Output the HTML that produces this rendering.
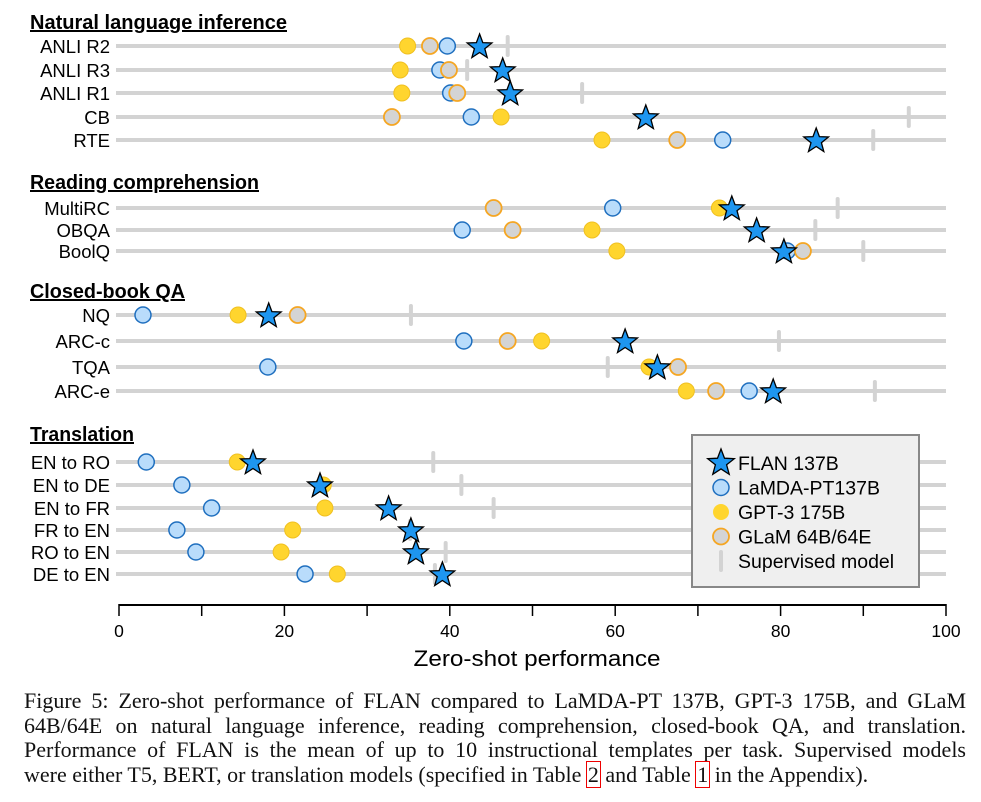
<!DOCTYPE html>
<html><head><meta charset="utf-8"><style>
html,body{margin:0;padding:0;background:#fff;}
body{width:981px;height:802px;overflow:hidden;position:relative;}
svg{position:absolute;left:0;top:0;}
.cap{position:absolute;left:24px;top:689px;width:942px;font-family:"Liberation Serif",serif;font-size:22px;line-height:24.6px;color:#111;}
.cap .ln{display:block;text-align:justify;text-align-last:justify;white-space:nowrap;}
.cap .last{text-align-last:left;}
.box{outline:1px solid #e00;padding:0 1px;}
</style></head><body>
<svg id="chart" width="981" height="690" font-family="Liberation Sans, sans-serif"></svg>
<div class="cap"><span class="ln">Figure 5: Zero-shot performance of FLAN compared to LaMDA-PT 137B, GPT-3 175B, and GLaM</span><span class="ln">64B/64E on natural language inference, reading comprehension, closed-book QA, and translation.</span><span class="ln">Performance of FLAN is the mean of up to 10 instructional templates per task. Supervised models</span><span class="ln last">were either T5, BERT, or translation models (specified in Table <span class="box">2</span> and Table <span class="box">1</span> in the Appendix).</span></div>
<script>
const tasks=["ANLI R2","ANLI R3","ANLI R1","CB","RTE","MultiRC","OBQA","BoolQ","NQ","ARC-c","TQA","ARC-e","EN to RO","EN to DE","EN to FR","FR to EN","RO to EN","DE to EN"];
const flan=[43.6,46.4,47.3,63.7,84.3,74.1,77.1,80.4,18.1,61.2,65.1,79.1,16.2,24.3,32.6,35.3,35.9,39.1];
const lamda=[39.7,38.8,40.1,42.6,73.0,59.7,41.5,80.8,2.9,41.7,18.0,76.2,3.3,7.6,11.2,7.0,9.3,22.5];
const gpt3=[34.9,34.0,34.2,46.2,58.4,72.6,57.2,60.2,14.4,51.1,64.1,68.6,14.3,24.7,24.9,21.0,19.6,26.4];
const glam=[37.6,39.9,40.9,33.0,67.5,45.3,47.6,82.7,21.6,47.0,67.6,72.2,null,null,null,null,null,null];
const supervised=[47.0,42.1,56.0,95.5,91.2,86.9,84.2,90.0,35.3,79.8,59.1,91.4,38.0,41.4,45.3,35.2,39.5,38.2];
const xTicks=[0,10,20,30,40,50,60,70,80,90,100];
const xLabels=[0,20,40,60,80,100];
const groups=["Natural language inference","Reading comprehension","Closed-book QA","Translation"];

const rowY=[46,70,93,117,140,208,230,251,315,341,367,391,462,485,508,530,552,574];
const groupY=[22,182,291,434];
const X=v=>119+v*8.27;
const svg=document.getElementById('chart');
const NS='http://www.w3.org/2000/svg';
function mk(tag,at,parent){const e=document.createElementNS(NS,tag);for(const k in at)e.setAttribute(k,at[k]);(parent||svg).appendChild(e);return e;}
function star(cx,cy,r){let p=[];for(let i=0;i<10;i++){const a=-Math.PI/2+i*Math.PI/5;const rr=i%2?r*0.42:r;p.push((cx+rr*Math.cos(a)).toFixed(1)+','+(cy+rr*Math.sin(a)).toFixed(1));}return p.join(' ');}

groups.forEach((g,i)=>{
  const t=mk('text',{x:30,y:groupY[i]+7,'font-size':20,'font-weight':'bold','text-decoration':'underline',textLength:i==0?257:(i==1?229:(i==2?155:104)),lengthAdjust:'spacingAndGlyphs'});
  
  
  t.textContent=g;
});
tasks.forEach((t,i)=>{
  const y=rowY[i];
  const lab=mk('text',{x:110,y:y+7,'font-size':18.5,'text-anchor':'end'});
  
  
  lab.textContent=t;
  const gl=mk('line',{x1:116,x2:946,y1:y,y2:y,stroke:'#d3d3d3','stroke-width':4});
  
  
  const s=mk('line',{x1:X(supervised[i]),x2:X(supervised[i]),y1:y-9,y2:y+9,stroke:'#d3d3d3','stroke-width':4,'stroke-linecap':'round'});
  
  
  const l=mk('circle',{cx:X(lamda[i]),cy:y,r:8,fill:'#b9dcfb',stroke:'#1f6fbf','stroke-width':1.5});
  
  
  const g3=mk('circle',{cx:X(gpt3[i]),cy:y,r:8,fill:'#ffd52e',stroke:'#f0c020','stroke-width':1});
  
  
  if(glam[i]!=null){
    const gm=mk('circle',{cx:X(glam[i]),cy:y,r:8,fill:'#d4d4d4',stroke:'#f5a623','stroke-width':1.8});
    
    
  }
  const f=mk('polygon',{points:star(X(flan[i]),y+1,13),fill:'#1e96f0',stroke:'#000','stroke-width':1.3});
  
  
});
const ax=mk('line',{x1:119,x2:946,y1:605,y2:605,stroke:'#000','stroke-width':2});


xTicks.forEach(v=>{
  const tk=mk('line',{x1:X(v),x2:X(v),y1:604,y2:616,stroke:'#000','stroke-width':1.5});
  
  
});
xLabels.forEach(v=>{
  const tl=mk('text',{x:X(v),y:637,'font-size':17.5,'text-anchor':'middle'});
  
  
  tl.textContent=v;
});
const xt=mk('text',{x:537,y:666,'font-size':22,'text-anchor':'middle',textLength:247,lengthAdjust:'spacingAndGlyphs'});


xt.textContent='Zero-shot performance';
const lg=mk('g',{});


mk('rect',{x:692,y:435,width:227,height:152,fill:'#efefef',stroke:'#888','stroke-width':2},lg);
const entries=[['FLAN 137B','star'],['LaMDA-PT137B','lamda'],['GPT-3 175B','gpt'],['GLaM 64B/64E','glam'],['Supervised model','sup']];
entries.forEach((e,i)=>{
  const y=463+i*24.5;const cx=721;
  if(e[1]=='star')mk('polygon',{points:star(cx,y,14),fill:'#1e96f0',stroke:'#000','stroke-width':1.3},lg);
  if(e[1]=='lamda')mk('circle',{cx:cx,cy:y,r:8,fill:'#b9dcfb',stroke:'#1f6fbf','stroke-width':1.5},lg);
  if(e[1]=='gpt')mk('circle',{cx:cx,cy:y,r:8,fill:'#ffd52e'},lg);
  if(e[1]=='glam')mk('circle',{cx:cx,cy:y,r:8,fill:'#d4d4d4',stroke:'#f5a623','stroke-width':1.8},lg);
  if(e[1]=='sup')mk('line',{x1:cx,x2:cx,y1:y-9,y2:y+9,stroke:'#d3d3d3','stroke-width':4,'stroke-linecap':'round'},lg);
  const t=mk('text',{x:738,y:y+7,'font-size':19.5},lg);
  
  
  t.textContent=e[0];
});
</script>
</body></html>
